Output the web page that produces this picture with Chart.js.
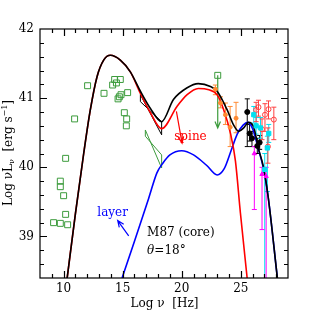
<!DOCTYPE html>
<html>
<head>
<meta charset="utf-8">
<script src="https://cdn.jsdelivr.net/npm/chart.js@4.4.0/dist/chart.umd.min.js"></script>
<style>html,body{margin:0;padding:0;background:#fff}</style>
</head>
<body>
<canvas id="sed" width="317" height="316"></canvas>
<script>
// rangos de los ejes
const X_MIN = 8, X_MAX = 29, Y_MIN = 38.4, Y_MAX = 42
const x_labels = [10, 15, 20, 25]
const y_labels = [39, 40, 41, 42]

// modelo total (negro)
const total_nu = [10.3, 11.0, 11.7, 12.26, 12.83, 13.39, 13.96, 14.8, 15.65, 16.5, 17.35, 18.3, 19.3, 20.46, 21.4, 22.43, 23.0, 23.85, 24.4, 24.83, 25.25, 25.65, 26.1, 26.5, 26.9, 27.3, 28.1]
const total_L = [38.4, 39.33, 40.2, 40.83, 41.31, 41.55, 41.62, 41.55, 41.38, 41.1, 40.85, 40.66, 40.98, 41.15, 41.21, 41.17, 41.1, 40.83, 40.61, 40.52, 40.57, 40.65, 40.58, 40.27, 40.02, 39.6, 38.4]
// spine (rojo)
const spine_nu = [10.3, 11.0, 11.7, 12.26, 12.83, 13.39, 13.96, 14.8, 15.65, 16.5, 17.35, 18.3, 19.6, 20.46, 21.4, 22.3, 23.0, 23.56, 24.13, 24.55, 24.97, 25.54]
const spine_L = [38.4, 39.33, 40.2, 40.83, 41.31, 41.55, 41.62, 41.55, 41.38, 41.07, 40.79, 40.56, 40.88, 41.05, 41.14, 41.12, 41.05, 40.83, 40.49, 40.09, 39.34, 38.4]
// layer (azul)
const layer_nu = [14.95, 16.0, 17.2, 17.9, 18.4, 19.0, 20.0, 21.0, 22.1, 23.0, 23.6, 24.2, 24.7, 25.2, 25.6, 26.0, 26.5, 26.9, 27.3, 28.1]
const layer_L = [38.4, 38.93, 39.55, 39.92, 40.06, 40.18, 40.24, 40.18, 40.03, 39.89, 39.98, 40.25, 40.48, 40.61, 40.65, 40.56, 40.26, 40.0, 39.6, 38.4]

// radio-optico (cuadrados verdes)
const radio_nu = [12.03, 10.93, 14.32, 14.8, 14.15, 14.47, 13.42, 15.42, 14.86, 14.72, 14.61, 15.14, 15.34, 15.31, 10.17, 9.72, 9.72, 10.0, 10.17, 9.15, 9.72, 10.34]
const radio_L = [41.18, 40.70, 41.27, 41.27, 41.19, 41.22, 41.07, 41.08, 41.05, 41.02, 40.99, 40.79, 40.70, 40.60, 40.13, 39.80, 39.72, 39.59, 39.32, 39.20, 39.19, 39.17]

// bowties rayos X
const bow_green_nu = [16.92, 18.3, 18.3, 16.92, 16.92]
const bow_green_L = [40.54, 39.99, 40.18, 40.45, 40.54]
const bow_black_nu = [16.5, 18.3, 18.3, 16.5, 16.5]
const bow_black_L = [41.05, 40.47, 40.66, 40.95, 41.05]

// limite superior (verde)
const uplim_nu = [23.05]
const uplim_L = [41.33]
const uplim_to = [40.57]

// gamma (naranja)
const orange_nu = [22.85, 23.28, 23.7, 24.1, 24.6]
const orange_L = [41.13, 40.93, 40.76, 40.58, 40.71]
const orange_lo = [41.05, 40.86, 40.62, 40.30, 40.50]
const orange_hi = [41.19, 41.02, 40.93, 40.88, 40.94]
// negro
const black_nu = [25.55, 25.75, 25.95, 26.4, 26.6]
const black_L = [40.80, 40.49, 40.42, 40.31, 40.36]
const black_lo = [40.30, 40.38, 40.30, 40.20, 40.26]
const black_hi = [40.99, 40.62, 40.52, 40.42, 40.46]
// rojo
const red_nu = [26.3, 26.5, 26.8, 27.05, 27.35, 27.3, 27.8]
const red_L = [40.83, 40.87, 40.55, 40.76, 40.84, 40.30, 40.69]
const red_lo = [40.66, 40.74, 40.40, 40.52, 40.70, 40.06, 40.40]
const red_hi = [40.94, 40.97, 40.70, 40.92, 40.96, 40.57, 40.87]
// cyan
const cyan_nu = [26.1, 26.3, 26.67, 27.37, 27.03, 27.25]
const cyan_L = [40.76, 40.60, 40.57, 40.49, 39.97, 40.28]
const cyan_lo = [40.64, 40.48, 40.42, 40.36, 38.0, 39.65]
const cyan_hi = [40.88, 40.72, 40.72, 40.62, 40.20, 40.45]
// magenta
const mag_nu = [26.15, 26.8, 27.15]
const mag_L = [40.2, 39.9, 39.87]
const mag_lo = [39.39, 39.1, 38.0]
const mag_hi = [40.3, 40.0, 40.0]

// flechas y textos [nu, L]
const spine_arrow = [[19.55, 40.81], [20.03, 40.35]]
const layer_arrow = [[15.51, 39.01], [14.58, 39.23]]
const spine_text = [20.74, 40.44]
const layer_text = [14.15, 39.34]
const m87_text = [17.07, 39.05]
const theta_text = [17.07, 38.79]

const SERIF = '"DejaVu Serif", "Liberation Serif", serif'

function pts(xs, ys) {
    return xs.map((x, i) => ({ x: x, y: ys[i] }))
}

function curva(xs, ys, color) {
    return {
        data: pts(xs, ys),
        showLine: true,
        borderColor: color,
        borderWidth: 1.6,
        pointRadius: 0,
        tension: 0.4,
        cubicInterpolationMode: 'monotone',
    }
}

function puntos(xs, ys, lo, hi, color, estilo, radio, relleno) {
    return {
        data: pts(xs, ys),
        errLo: lo,
        errHi: hi,
        borderColor: color,
        backgroundColor: relleno ? color : 'rgba(0,0,0,0)',
        pointStyle: estilo,
        pointRadius: radio,
        borderWidth: 1,
    }
}

function flecha(ctx, x1, y1, x2, y2, color) {
    const ang = Math.atan2(y2 - y1, x2 - x1)
    const L = 7, a = 0.4
    ctx.strokeStyle = color
    ctx.lineWidth = 1.2
    ctx.beginPath()
    ctx.moveTo(x1, y1); ctx.lineTo(x2, y2)
    ctx.moveTo(x2 - L * Math.cos(ang - a), y2 - L * Math.sin(ang - a))
    ctx.lineTo(x2, y2)
    ctx.lineTo(x2 - L * Math.cos(ang + a), y2 - L * Math.sin(ang + a))
    ctx.stroke()
}

// texto con subindices / superindices
function runs(ctx, parts, x, y, align) {
    let w = 0
    parts.forEach(p => { ctx.font = (p.st || '') + ' ' + p.s + 'px ' + SERIF; w += ctx.measureText(p.t).width })
    let cx = align === 'center' ? x - w / 2 : x
    ctx.textAlign = 'left'
    ctx.textBaseline = 'middle'
    parts.forEach(p => {
        ctx.font = (p.st || '') + ' ' + p.s + 'px ' + SERIF
        ctx.fillText(p.t, cx, y + (p.dy || 0))
        cx += ctx.measureText(p.t).width
    })
}

const ejes_plugin = {
    id: 'ejes',
    beforeDatasetsDraw(chart) {
        const ctx = chart.ctx, a = chart.chartArea
        const sx = chart.scales.x, sy = chart.scales.y
        ctx.save()
        ctx.beginPath()
        ctx.rect(a.left, a.top, a.right - a.left, a.bottom - a.top)
        ctx.clip()
        chart.data.datasets.forEach(ds => {
            if (!ds.errLo) return
            ctx.strokeStyle = ds.borderColor
            ctx.lineWidth = 1
            ds.data.forEach((p, i) => {
                const x = sx.getPixelForValue(p.x)
                const y1 = sy.getPixelForValue(ds.errLo[i]), y2 = sy.getPixelForValue(ds.errHi[i])
                ctx.beginPath()
                ctx.moveTo(x, y1); ctx.lineTo(x, y2)
                ctx.moveTo(x - 2.5, y1); ctx.lineTo(x + 2.5, y1)
                ctx.moveTo(x - 2.5, y2); ctx.lineTo(x + 2.5, y2)
                ctx.stroke()
            })
        })
        // limite superior verde
        uplim_nu.forEach((n, i) => {
            const x = sx.getPixelForValue(n)
            flecha(ctx, x, sy.getPixelForValue(uplim_L[i]), x, sy.getPixelForValue(uplim_to[i]), '#3c9b3c')
        })
        ctx.restore()
    },
    afterDraw(chart) {
        const ctx = chart.ctx, a = chart.chartArea
        const sx = chart.scales.x, sy = chart.scales.y
        ctx.save()
        ctx.strokeStyle = '#000'
        ctx.lineWidth = 1.2
        ctx.strokeRect(a.left, a.top, a.right - a.left, a.bottom - a.top)
        ctx.beginPath()
        for (let v = 9; v < X_MAX; v++) {
            const x = Math.round(sx.getPixelForValue(v)) + 0.5
            const len = v % 5 === 0 ? 7 : 4
            ctx.moveTo(x, a.bottom); ctx.lineTo(x, a.bottom - len)
            ctx.moveTo(x, a.top); ctx.lineTo(x, a.top + len)
        }
        for (let k = 1; k < 18; k++) {
            const v = Y_MIN + k * 0.2
            const y = Math.round(sy.getPixelForValue(v)) + 0.5
            const len = Math.abs(v - Math.round(v)) < 0.01 ? 7 : 4
            ctx.moveTo(a.left, y); ctx.lineTo(a.left + len, y)
            ctx.moveTo(a.right, y); ctx.lineTo(a.right - len, y)
        }
        ctx.stroke()

        // etiquetas
        ctx.fillStyle = '#000'
        ctx.font = '12px ' + SERIF
        ctx.textAlign = 'center'
        ctx.textBaseline = 'middle'
        x_labels.forEach(v => ctx.fillText(String(v), sx.getPixelForValue(v), a.bottom + 11))
        ctx.textAlign = 'right'
        y_labels.forEach(v => ctx.fillText(String(v), a.left - 6, sy.getPixelForValue(v)))

        // titulos
        runs(ctx, [{ t: 'Log \u03BD  [Hz]', s: 12 }], (a.left + a.right) / 2 + 0.5, 304, 'center')
        ctx.save()
        ctx.translate(9, 153)
        ctx.rotate(-Math.PI / 2)
        runs(ctx, [{ t: 'Log \u03BDL', s: 12 }, { t: '\u03BD', s: 8, dy: 3 }, { t: '  [erg s', s: 12 }, { t: '\u22121', s: 8, dy: -4 }, { t: ']', s: 12 }], 0, 0, 'center')
        ctx.restore()

        // anotaciones
        ctx.fillStyle = '#ff0000'
        runs(ctx, [{ t: 'spine', s: 12 }], sx.getPixelForValue(spine_text[0]), sy.getPixelForValue(spine_text[1]), 'center')
        ctx.fillStyle = '#0000ff'
        runs(ctx, [{ t: 'layer', s: 12 }], sx.getPixelForValue(layer_text[0]), sy.getPixelForValue(layer_text[1]), 'center')
        ctx.fillStyle = '#000'
        runs(ctx, [{ t: 'M87 (core)', s: 12 }], sx.getPixelForValue(m87_text[0]), sy.getPixelForValue(m87_text[1]), 'left')
        runs(ctx, [{ t: '\u03B8', s: 12, st: 'italic' }, { t: '=18\u00B0', s: 12 }], sx.getPixelForValue(theta_text[0]), sy.getPixelForValue(theta_text[1]), 'left')

        const p = c => [sx.getPixelForValue(c[0]), sy.getPixelForValue(c[1])]
        const s1 = p(spine_arrow[0]), s2 = p(spine_arrow[1])
        flecha(ctx, s1[0], s1[1], s2[0], s2[1], '#ff0000')
        const l1 = p(layer_arrow[0]), l2 = p(layer_arrow[1])
        flecha(ctx, l1[0], l1[1], l2[0], l2[1], '#0000ff')
        ctx.restore()
    }
}

const sed = new Chart(document.querySelector('#sed'), {
    type: 'scatter',
    data: {
        datasets: [
            puntos(black_nu, black_L, black_lo, black_hi, '#000000', 'circle', 2.5, true),
            puntos(cyan_nu, cyan_L, cyan_lo, cyan_hi, '#00e0f0', 'rect', 3, true),
            puntos(mag_nu, mag_L, mag_lo, mag_hi, '#ff00ff', 'triangle', 2.5, true),
            puntos(red_nu, red_L, red_lo, red_hi, '#ff4040', 'circle', 2.5, false),
            puntos(orange_nu, orange_L, orange_lo, orange_hi, '#ff8a33', 'circle', 2, true),
            {
                data: pts(radio_nu, radio_L),
                borderColor: '#3c9b3c',
                backgroundColor: 'rgba(0,0,0,0)',
                pointStyle: 'rect',
                pointRadius: 4.2,
                borderWidth: 1,
            },
            {
                data: pts(uplim_nu, uplim_L),
                borderColor: '#3c9b3c',
                backgroundColor: 'rgba(0,0,0,0)',
                pointStyle: 'rect',
                pointRadius: 4.2,
                borderWidth: 1,
            },
            curva(total_nu, total_L, '#000000'),
            curva(spine_nu, spine_L, '#ff0000'),
            curva(layer_nu, layer_L, '#0000ff'),
            { data: pts(bow_black_nu, bow_black_L), showLine: true, borderColor: '#000', borderWidth: 1, pointRadius: 0, tension: 0 },
            { data: pts(bow_green_nu, bow_green_L), showLine: true, borderColor: '#3c9b3c', borderWidth: 1, pointRadius: 0, tension: 0 },
        ]
    },
    options: {
        responsive: false,
        animation: false,
        devicePixelRatio: 1,
        layout: { padding: { left: 40, right: 29, top: 29, bottom: 38 } },
        scales: {
            x: { type: 'linear', min: X_MIN, max: X_MAX, display: false },
            y: { type: 'linear', min: Y_MIN, max: Y_MAX, display: false },
        },
        plugins: {
            legend: { display: false },
            tooltip: { enabled: false }
        },
    },
    plugins: [ejes_plugin]
})
</script>
</body>
</html>
